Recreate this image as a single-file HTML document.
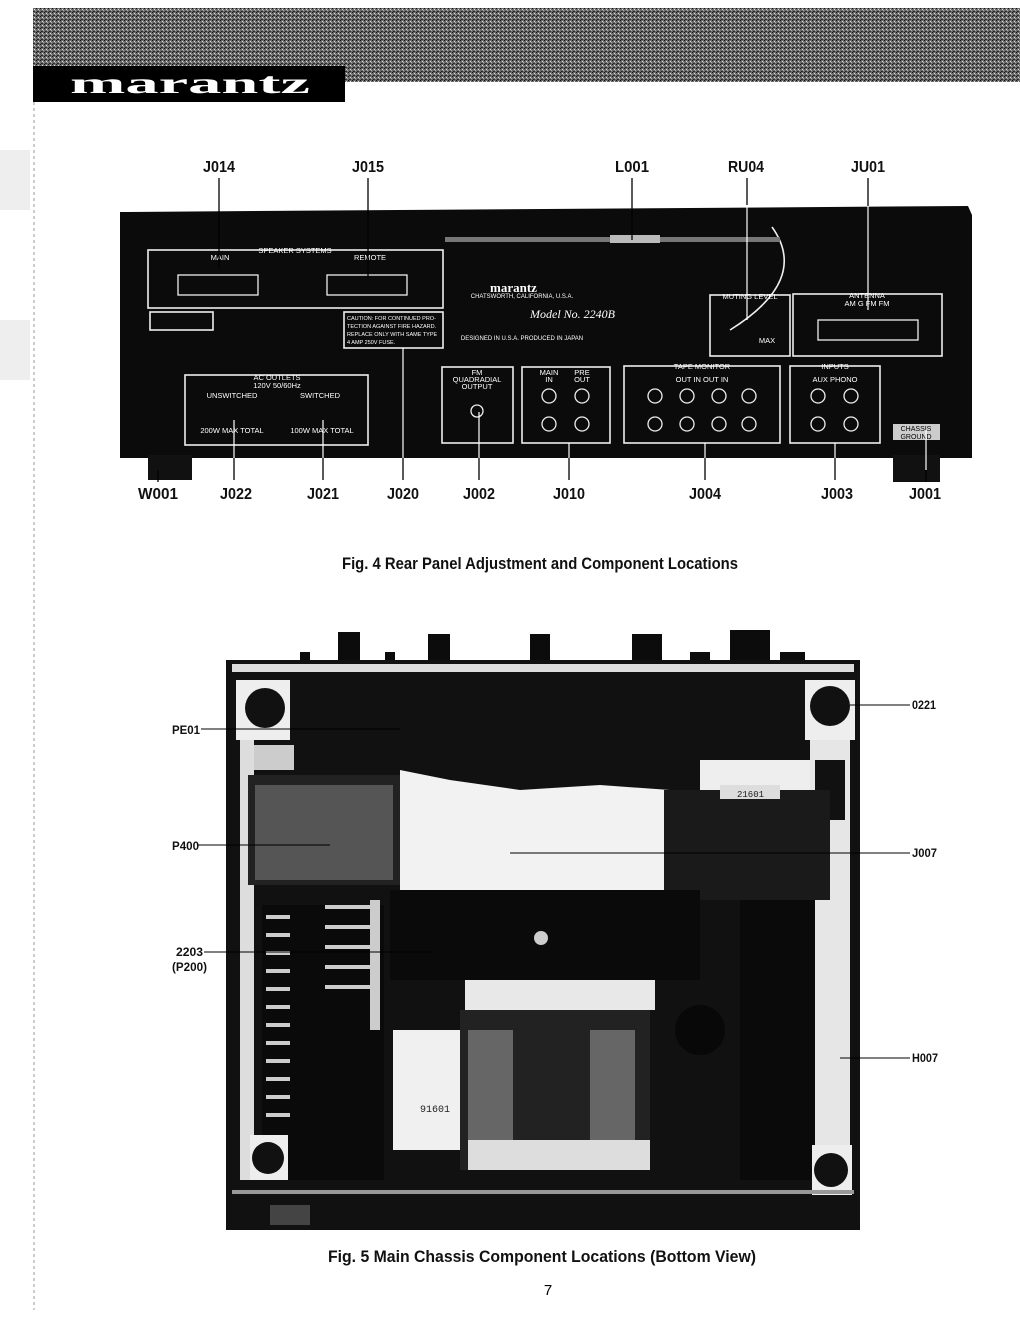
<!DOCTYPE html>
<html><head><meta charset="utf-8"><style>
html,body{margin:0;padding:0;background:#fff;}
svg{display:block;}
.l{font-family:"Liberation Sans",sans-serif;font-weight:bold;fill:#111;}
.s{font-family:"Liberation Sans",sans-serif;fill:#fff;}
</style></head><body>
<svg width="1020" height="1320" viewBox="0 0 1020 1320" xmlns="http://www.w3.org/2000/svg">
<defs>
<pattern id="grain" width="4" height="4" patternUnits="userSpaceOnUse">
<rect width="4" height="4" fill="#6a6a6a"/><rect x="0" y="0" width="1" height="1" fill="#111"/><rect x="2" y="1" width="1" height="1" fill="#ddd"/><rect x="1" y="3" width="1" height="1" fill="#222"/><rect x="3" y="2" width="1" height="1" fill="#aaa"/><rect x="2" y="3" width="1" height="1" fill="#333"/>
</pattern>
</defs>
<!-- header -->
<rect x="33" y="8" width="987" height="74" fill="url(#grain)"/>
<rect x="33" y="66" width="312" height="36" fill="#000"/>
<text x="70" y="93" font-family="Liberation Serif,serif" font-weight="bold" font-size="30" fill="#fff" textLength="240" lengthAdjust="spacingAndGlyphs">marantz</text>
<line x1="34" y1="102" x2="34" y2="1310" stroke="#999" stroke-width="1" stroke-dasharray="3,3"/>
<rect x="0" y="150" width="30" height="60" fill="#ddd" opacity="0.5"/>
<rect x="0" y="320" width="30" height="60" fill="#ddd" opacity="0.5"/>

<!-- top labels -->
<g class="l" font-size="16" text-anchor="middle" lengthAdjust="spacingAndGlyphs">
<text x="219" y="172" textLength="32" lengthAdjust="spacingAndGlyphs">J014</text><text x="368" y="172" textLength="32" lengthAdjust="spacingAndGlyphs">J015</text><text x="632" y="172" textLength="34" lengthAdjust="spacingAndGlyphs">L001</text><text x="746" y="172" textLength="36" lengthAdjust="spacingAndGlyphs">RU04</text><text x="868" y="172" textLength="34" lengthAdjust="spacingAndGlyphs">JU01</text>
<text x="158" y="499" textLength="40" lengthAdjust="spacingAndGlyphs">W001</text><text x="236" y="499" textLength="32" lengthAdjust="spacingAndGlyphs">J022</text><text x="323" y="499" textLength="32" lengthAdjust="spacingAndGlyphs">J021</text><text x="403" y="499" textLength="32" lengthAdjust="spacingAndGlyphs">J020</text><text x="479" y="499" textLength="32" lengthAdjust="spacingAndGlyphs">J002</text><text x="569" y="499" textLength="32" lengthAdjust="spacingAndGlyphs">J010</text><text x="705" y="499" textLength="32" lengthAdjust="spacingAndGlyphs">J004</text><text x="837" y="499" textLength="32" lengthAdjust="spacingAndGlyphs">J003</text><text x="925" y="499" textLength="32" lengthAdjust="spacingAndGlyphs">J001</text>
</g>

<!-- rear panel -->
<path d="M120 212 L968 206 L972 215 L972 458 L120 458 Z" fill="#0b0b0b"/>
<rect x="148" y="455" width="44" height="25" fill="#111"/>
<rect x="893" y="455" width="47" height="27" fill="#111"/>
<g fill="none" stroke="#eee" stroke-width="1.6">
<rect x="148" y="250" width="295" height="58"/>
<rect x="150" y="312" width="63" height="18"/>
<rect x="344" y="312" width="99" height="36"/>
<rect x="185" y="375" width="183" height="70"/>
<rect x="442" y="367" width="71" height="76"/>
<rect x="522" y="367" width="88" height="76"/>
<rect x="710" y="295" width="80" height="61"/>
<rect x="793" y="294" width="149" height="62"/>
<rect x="624" y="366" width="156" height="77"/>
<rect x="790" y="366" width="90" height="77"/>
<path d="M772 227 Q810 280 730 330" />
</g>
<rect x="445" y="237" width="335" height="5" fill="#777"/>
<rect x="610" y="235" width="50" height="8" fill="#bbb"/>
<rect x="893" y="424" width="47" height="16" fill="#ccc"/>
<text x="916" y="431" font-family="Liberation Sans,sans-serif" font-size="7" text-anchor="middle" fill="#000">CHASSIS</text>
<text x="916" y="439" font-family="Liberation Sans,sans-serif" font-size="7" text-anchor="middle" fill="#000">GROUND</text>
<g class="s" font-size="7.5" text-anchor="middle">
<text x="295" y="253">SPEAKER SYSTEMS</text><text x="220" y="260">MAIN</text><text x="370" y="260">REMOTE</text>
<text x="277" y="380">AC OUTLETS</text><text x="277" y="388">120V 50/60Hz</text><text x="232" y="398">UNSWITCHED</text><text x="320" y="398">SWITCHED</text>
<text x="232" y="433">200W MAX TOTAL</text><text x="322" y="433">100W MAX TOTAL</text>
<text x="477" y="375">FM</text><text x="477" y="382">QUADRADIAL</text><text x="477" y="389">OUTPUT</text>
<text x="549" y="375">MAIN</text><text x="549" y="382">IN</text><text x="582" y="375">PRE</text><text x="582" y="382">OUT</text>
<text x="750" y="299">MUTING LEVEL</text><text x="767" y="343">MAX</text>
<text x="867" y="298">ANTENNA</text><text x="867" y="306">AM  G  FM  FM</text>
<text x="702" y="369">TAPE MONITOR</text><text x="702" y="382">OUT  IN  OUT  IN</text>
<text x="835" y="369">INPUTS</text><text x="835" y="382">AUX  PHONO</text>
<text x="522" y="298" font-size="6">CHATSWORTH, CALIFORNIA, U.S.A.</text>
<text x="522" y="340" font-size="6">DESIGNED IN U.S.A. PRODUCED IN JAPAN</text>
</g>
<text x="490" y="292" font-family="Liberation Serif,serif" font-weight="bold" font-size="13" fill="#fff">marantz</text>
<text x="530" y="318" font-family="Liberation Serif,serif" font-style="italic" font-size="12" fill="#fff">Model No. 2240B</text>
<g class="s" font-size="5.5"><text x="347" y="320">CAUTION: FOR CONTINUED PRO-</text><text x="347" y="328">TECTION AGAINST FIRE HAZARD.</text><text x="347" y="336">REPLACE ONLY WITH SAME TYPE</text><text x="347" y="344">4 AMP 250V FUSE.</text></g>
<g fill="none" stroke="#eee" stroke-width="1.3">
<circle cx="477" cy="411" r="6"/>
<circle cx="549" cy="396" r="7"/><circle cx="582" cy="396" r="7"/><circle cx="549" cy="424" r="7"/><circle cx="582" cy="424" r="7"/>
<circle cx="655" cy="396" r="7"/><circle cx="687" cy="396" r="7"/><circle cx="719" cy="396" r="7"/><circle cx="749" cy="396" r="7"/>
<circle cx="655" cy="424" r="7"/><circle cx="687" cy="424" r="7"/><circle cx="719" cy="424" r="7"/><circle cx="749" cy="424" r="7"/>
<circle cx="818" cy="396" r="7"/><circle cx="851" cy="396" r="7"/><circle cx="818" cy="424" r="7"/><circle cx="851" cy="424" r="7"/>
<rect x="178" y="275" width="80" height="20"/><rect x="327" y="275" width="80" height="20"/><rect x="818" y="320" width="100" height="20"/>
</g>
<!-- leader lines -->
<g stroke="#000" stroke-width="1.3">
<line x1="219" y1="178" x2="219" y2="268"/><line x1="368" y1="178" x2="368" y2="278"/><line x1="632" y1="178" x2="632" y2="240"/><line x1="747" y1="178" x2="747" y2="205"/><line x1="868" y1="178" x2="868" y2="206"/>
<line x1="158" y1="470" x2="158" y2="482"/><line x1="926" y1="470" x2="926" y2="482"/>
<line x1="835" y1="458" x2="835" y2="480"/><line x1="705" y1="458" x2="705" y2="480"/><line x1="569" y1="458" x2="569" y2="480"/><line x1="479" y1="458" x2="479" y2="480"/><line x1="403" y1="458" x2="403" y2="480"/><line x1="323" y1="458" x2="323" y2="480"/><line x1="234" y1="458" x2="234" y2="480"/>
</g>
<g stroke="#fff" stroke-width="1.2">
<line x1="747" y1="205" x2="747" y2="320"/><line x1="868" y1="206" x2="868" y2="310"/>
<line x1="234" y1="420" x2="234" y2="458"/><line x1="323" y1="420" x2="323" y2="458"/><line x1="403" y1="348" x2="403" y2="458"/><line x1="479" y1="412" x2="479" y2="458"/><line x1="569" y1="443" x2="569" y2="458"/><line x1="705" y1="443" x2="705" y2="458"/><line x1="835" y1="443" x2="835" y2="458"/><line x1="926" y1="430" x2="926" y2="470"/>
</g>
<text x="540" y="569" class="l" font-size="17" text-anchor="middle" textLength="396" lengthAdjust="spacingAndGlyphs">Fig.  4   Rear Panel Adjustment and Component Locations</text>

<!-- chassis -->
<g fill="#0c0c0c">
<rect x="338" y="632" width="22" height="30"/><rect x="428" y="634" width="22" height="28"/><rect x="530" y="634" width="20" height="28"/><rect x="632" y="634" width="30" height="28"/><rect x="730" y="630" width="40" height="32"/>
<rect x="300" y="652" width="10" height="10"/><rect x="385" y="652" width="10" height="10"/><rect x="690" y="652" width="20" height="10"/><rect x="780" y="652" width="25" height="10"/>
</g>
<rect x="226" y="660" width="634" height="570" fill="#111"/>
<rect x="232" y="664" width="622" height="8" fill="#ddd"/>
<rect x="236" y="680" width="54" height="60" fill="#eee"/><circle cx="265" cy="708" r="20" fill="#111"/>
<rect x="805" y="680" width="50" height="60" fill="#eee"/><circle cx="830" cy="706" r="20" fill="#111"/>
<rect x="240" y="740" width="14" height="440" fill="#ddd"/>
<rect x="254" y="745" width="40" height="25" fill="#ccc"/>
<path d="M400 770 L450 780 L520 790 L600 785 L670 790 L690 800 L680 890 L400 890 Z" fill="#f2f2f2"/>
<rect x="700" y="760" width="110" height="30" fill="#eee"/>
<rect x="810" y="740" width="40" height="440" fill="#e6e6e6"/>
<rect x="815" y="760" width="30" height="60" fill="#111"/>
<rect x="248" y="775" width="152" height="110" fill="#222"/>
<rect x="255" y="785" width="138" height="95" fill="#555"/>
<rect x="664" y="790" width="166" height="110" fill="#1a1a1a"/>
<rect x="390" y="890" width="310" height="90" fill="#0a0a0a"/>
<circle cx="541" cy="938" r="7" fill="#ccc"/>
<rect x="262" y="905" width="122" height="275" fill="#0a0a0a"/>
<g fill="#ccc"><rect x="266" y="915" width="24" height="4"/><rect x="266" y="933" width="24" height="4"/><rect x="266" y="951" width="24" height="4"/><rect x="266" y="969" width="24" height="4"/><rect x="266" y="987" width="24" height="4"/><rect x="266" y="1005" width="24" height="4"/><rect x="266" y="1023" width="24" height="4"/><rect x="266" y="1041" width="24" height="4"/><rect x="266" y="1059" width="24" height="4"/><rect x="266" y="1077" width="24" height="4"/><rect x="266" y="1095" width="24" height="4"/><rect x="266" y="1113" width="24" height="4"/>
<rect x="325" y="905" width="50" height="4"/><rect x="325" y="925" width="50" height="4"/><rect x="325" y="945" width="50" height="4"/><rect x="325" y="965" width="50" height="4"/><rect x="325" y="985" width="50" height="4"/><rect x="370" y="900" width="10" height="130"/></g>
<rect x="393" y="1030" width="67" height="120" fill="#f0f0f0"/>
<text x="420" y="1112" font-family="Liberation Mono,monospace" font-size="10" fill="#222">91601</text>
<rect x="460" y="1010" width="190" height="160" fill="#222"/>
<rect x="468" y="1030" width="45" height="110" fill="#666"/>
<rect x="590" y="1030" width="45" height="110" fill="#666"/>
<rect x="468" y="1140" width="182" height="30" fill="#ddd"/>
<rect x="465" y="980" width="190" height="30" fill="#e8e8e8"/>
<circle cx="700" cy="1030" r="25" fill="#080808"/>
<rect x="740" y="900" width="75" height="280" fill="#0a0a0a"/>
<rect x="250" y="1135" width="38" height="45" fill="#eee"/><circle cx="268" cy="1158" r="16" fill="#111"/>
<rect x="812" y="1145" width="40" height="50" fill="#eee"/><circle cx="831" cy="1170" r="17" fill="#111"/>
<rect x="720" y="785" width="60" height="14" fill="#ddd"/>
<text x="737" y="797" font-family="Liberation Mono,monospace" font-size="9" fill="#222">21601</text>
<rect x="232" y="1190" width="622" height="4" fill="#999"/>
<rect x="270" y="1205" width="40" height="20" fill="#444"/>

<!-- chassis labels -->
<g class="l" font-size="12">
<text x="172" y="734" textLength="28" lengthAdjust="spacingAndGlyphs">PE01</text><text x="172" y="850" textLength="27" lengthAdjust="spacingAndGlyphs">P400</text><text x="176" y="956" textLength="27" lengthAdjust="spacingAndGlyphs">2203</text><text x="172" y="971" textLength="35" lengthAdjust="spacingAndGlyphs">(P200)</text>
<text x="912" y="709" textLength="24" lengthAdjust="spacingAndGlyphs">0221</text><text x="912" y="857" textLength="25" lengthAdjust="spacingAndGlyphs">J007</text><text x="912" y="1062" textLength="26" lengthAdjust="spacingAndGlyphs">H007</text>
</g>
<g stroke="#000" stroke-width="1"><line x1="201" y1="729" x2="400" y2="729"/><line x1="198" y1="845" x2="330" y2="845"/><line x1="204" y1="952" x2="430" y2="952"/><line x1="850" y1="705" x2="910" y2="705"/><line x1="510" y1="853" x2="910" y2="853"/><line x1="840" y1="1058" x2="910" y2="1058"/></g>
<text x="542" y="1262" class="l" font-size="17" text-anchor="middle" textLength="428" lengthAdjust="spacingAndGlyphs">Fig.  5   Main Chassis Component Locations (Bottom View)</text>
<text x="548" y="1295" font-family="Liberation Sans,sans-serif" font-size="15" text-anchor="middle">7</text>
</svg>
</body></html>
